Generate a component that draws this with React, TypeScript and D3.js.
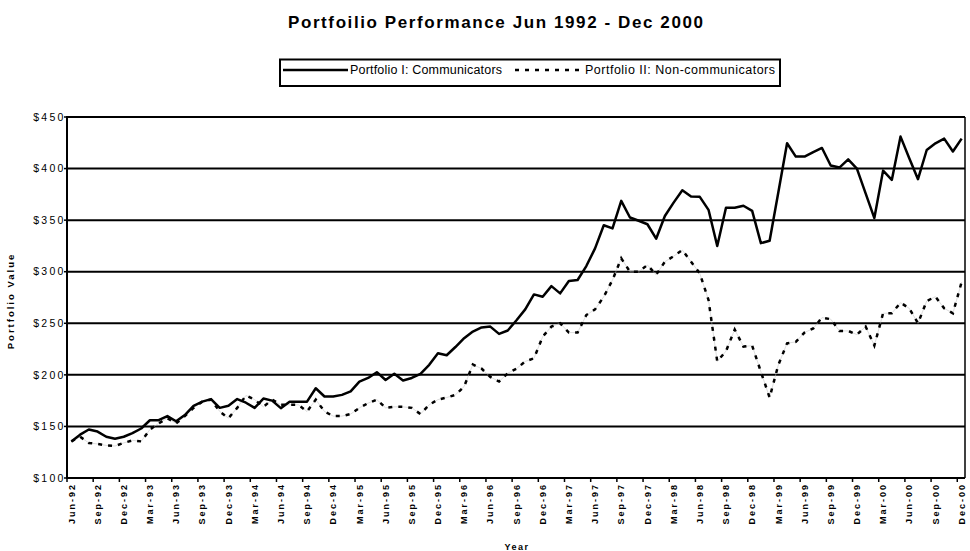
import React, { useEffect, useRef } from 'react'
import * as d3 from 'd3'

// monthly values, Jun-92 .. Dec-00 (103 months)
const communicators = [
  135.5, 142, 147, 145, 140, 138, 140, 143.5, 148, 156, 156, 160,
  155, 161, 170, 174, 176.5, 168, 170, 176.5, 173, 168, 177, 175,
  167.7, 174, 174, 174, 187, 179, 179, 180.6, 184, 193.5, 197, 202.6,
  195, 201, 194.5, 197, 201, 209.7, 221, 219, 227, 235.5, 242, 246,
  246.8, 239.7, 243, 253, 263.5, 278, 275.8, 286, 279, 291, 292, 305.5,
  322.6, 345, 342, 368.7, 352.6, 349.4, 346, 332, 354, 367, 379, 373,
  372.6, 360, 325, 362, 362, 364, 359, 327.7, 330, 377, 424.5, 411.6,
  411.6, 416, 420, 403, 401, 409, 400, 376, 352, 398, 389, 431,
  410, 389.7, 418, 424.5, 429, 416.5, 429
]

const nonCommunicators = [
  135.5, 140, 134, 133, 131.6, 131, 134, 136.5, 135.5, 147, 153, 158,
  153, 160, 168, 174, 176, 164.5, 158, 168, 180, 176, 169, 176,
  171, 171, 171, 164.5, 176, 164.5, 160, 160, 162, 168, 172.6, 176,
  168, 169, 169, 168, 162, 171, 176, 178, 180.6, 188.7, 210, 206,
  198, 193.5, 201.6, 206, 213, 216, 237, 246.8, 250, 241, 241, 258,
  263.5, 275.8, 292, 313, 300, 300, 306.5, 297, 309.7, 315, 321, 309.7,
  298.4, 272.6, 213, 223, 244, 227.4, 228.4, 203, 178, 209.7, 230.6, 232,
  241, 245, 255.5, 254, 242.6, 242.6, 239, 246.8, 228.4, 259.7, 259.7, 270,
  264.5, 250, 271.6, 275.8, 264.5, 259.7, 290
]

const tickLabels = [
  'Jun-92', 'Sep-92', 'Dec-92', 'Mar-93', 'Jun-93', 'Sep-93', 'Dec-93',
  'Mar-94', 'Jun-94', 'Sep-94', 'Dec-94', 'Mar-95', 'Jun-95', 'Sep-95',
  'Dec-95', 'Mar-96', 'Jun-96', 'Sep-96', 'Dec-96', 'Mar-97', 'Jun-97',
  'Sep-97', 'Dec-97', 'Mar-98', 'Jun-98', 'Sep-98', 'Dec-98', 'Mar-99',
  'Jun-99', 'Sep-99', 'Dec-99', 'Mar-00', 'Jun-00', 'Sep-00', 'Dec-00'
]

const yTicks = [100, 150, 200, 250, 300, 350, 400, 450]

const FONT = '"Liberation Sans", Arial, sans-serif'

export default function App() {
  const svgRef = useRef<SVGSVGElement>(null)
  const width = 970
  const height = 551

  useEffect(() => {
    if (!svgRef.current) return
    const svg = d3.select(svgRef.current)
    svg.selectAll('*').remove()

    const plot = { left: 67, right: 965, top: 117, bottom: 478 }
    const idx = d3.range(communicators.length)

    const x = d3.scaleBand<number>()
      .domain(idx)
      .range([plot.left, plot.right + 1])
      .paddingInner(0)
      .paddingOuter(0)
    const cx = (i: number) => (x(i) as number) + x.bandwidth() / 2

    const y = d3.scaleLinear().domain([100, 450]).range([plot.bottom, plot.top])

    svg.append('rect').attr('width', width).attr('height', height).attr('fill', '#fff')

    // title
    svg.append('text')
      .attr('x', 288).attr('y', 27.5)
      .attr('font-family', FONT).attr('font-weight', 'bold').attr('font-size', 17)
      .attr('textLength', 415).attr('lengthAdjust', 'spacing')
      .text('Portfoilio Performance Jun 1992 - Dec 2000')

    // legend
    const lg = svg.append('g')
    lg.append('rect')
      .attr('x', 280).attr('y', 59.5).attr('width', 500).attr('height', 26.5)
      .attr('fill', '#fff').attr('stroke', '#000').attr('stroke-width', 2)
    lg.append('line')
      .attr('x1', 283).attr('x2', 348).attr('y1', 70).attr('y2', 70)
      .attr('stroke', '#000').attr('stroke-width', 2.5)
    lg.append('text')
      .attr('x', 350).attr('y', 74.3)
      .attr('font-family', FONT).attr('font-size', 12.5)
      .attr('textLength', 152).attr('lengthAdjust', 'spacing')
      .text('Portfolio I: Communicators')
    lg.append('line')
      .attr('x1', 515).attr('x2', 584).attr('y1', 70).attr('y2', 70)
      .attr('stroke', '#000').attr('stroke-width', 2.5)
      .attr('stroke-dasharray', '4,6')
    lg.append('text')
      .attr('x', 585).attr('y', 74.3)
      .attr('font-family', FONT).attr('font-size', 12.5)
      .attr('textLength', 190).attr('lengthAdjust', 'spacing')
      .text('Portfolio II: Non-communicators')

    // gridlines
    svg.append('g')
      .selectAll('line')
      .data(yTicks)
      .enter()
      .append('line')
      .attr('x1', plot.left).attr('x2', plot.right)
      .attr('y1', d => y(d)).attr('y2', d => y(d))
      .attr('stroke', '#000').attr('stroke-width', 2)

    // right border
    svg.append('line')
      .attr('x1', plot.right).attr('x2', plot.right)
      .attr('y1', plot.top).attr('y2', plot.bottom)
      .attr('stroke', '#000').attr('stroke-width', 1.5)

    // y axis
    svg.append('line')
      .attr('x1', plot.left).attr('x2', plot.left)
      .attr('y1', plot.top - 1).attr('y2', plot.bottom + 1)
      .attr('stroke', '#000').attr('stroke-width', 2)
    const yAxis = svg.append('g')
    yAxis.selectAll('line')
      .data(yTicks)
      .enter()
      .append('line')
      .attr('x1', plot.left - 3).attr('x2', plot.left)
      .attr('y1', d => y(d)).attr('y2', d => y(d))
      .attr('stroke', '#000').attr('stroke-width', 1.5)
    yAxis.selectAll('text')
      .data(yTicks)
      .enter()
      .append('text')
      .attr('x', 65.5).attr('y', d => y(d)).attr('dy', '0.35em')
      .attr('text-anchor', 'end')
      .attr('font-family', FONT).attr('font-size', 10.5).attr('letter-spacing', 2.2)
      .text(d => `$${d}`)

    svg.append('text')
      .attr('transform', `translate(14,301) rotate(-90)`)
      .attr('text-anchor', 'middle')
      .attr('font-family', FONT).attr('font-weight', 'bold').attr('font-size', 9.5)
      .attr('letter-spacing', 2)
      .text('Portfolio Value')

    // x axis
    svg.append('line')
      .attr('x1', plot.left).attr('x2', plot.right)
      .attr('y1', plot.bottom).attr('y2', plot.bottom)
      .attr('stroke', '#000').attr('stroke-width', 2)
    const xAxis = svg.append('g')
    xAxis.selectAll('line')
      .data(tickLabels)
      .enter()
      .append('line')
      .attr('x1', (_d, k) => x(k * 3) as number)
      .attr('x2', (_d, k) => x(k * 3) as number)
      .attr('y1', plot.bottom).attr('y2', plot.bottom + 4)
      .attr('stroke', '#000').attr('stroke-width', 1.5)
    xAxis.selectAll('text')
      .data(tickLabels)
      .enter()
      .append('text')
      .attr('transform', (_d, k) => `translate(${cx(k * 3)},483) rotate(-90)`)
      .attr('dy', '0.35em')
      .attr('text-anchor', 'end')
      .attr('font-family', FONT).attr('font-weight', 'bold').attr('font-size', 9)
      .attr('letter-spacing', 2)
      .text(d => d)

    svg.append('text')
      .attr('x', 517).attr('y', 550)
      .attr('text-anchor', 'middle')
      .attr('font-family', FONT).attr('font-weight', 'bold').attr('font-size', 9)
      .attr('letter-spacing', 1.5)
      .text('Year')

    // series
    const line = d3.line<number>()
      .x((_d, i) => cx(i))
      .y(d => y(d))

    svg.append('path')
      .datum(nonCommunicators)
      .attr('fill', 'none')
      .attr('stroke', '#bbb')
      .attr('stroke-width', 0.5)
      .attr('d', line)
    svg.append('path')
      .datum(nonCommunicators)
      .attr('fill', 'none')
      .attr('stroke', '#000')
      .attr('stroke-width', 2.5)
      .attr('stroke-dasharray', '4,6')
      .attr('d', line)

    svg.append('path')
      .datum(communicators)
      .attr('fill', 'none')
      .attr('stroke', '#000')
      .attr('stroke-width', 2.5)
      .attr('stroke-linejoin', 'round')
      .attr('d', line)
  }, [])

  return (
    <svg
      ref={svgRef}
      width={width}
      height={height}
      style={{ position: 'absolute', left: 0, top: 0 }}
    />
  )
}
